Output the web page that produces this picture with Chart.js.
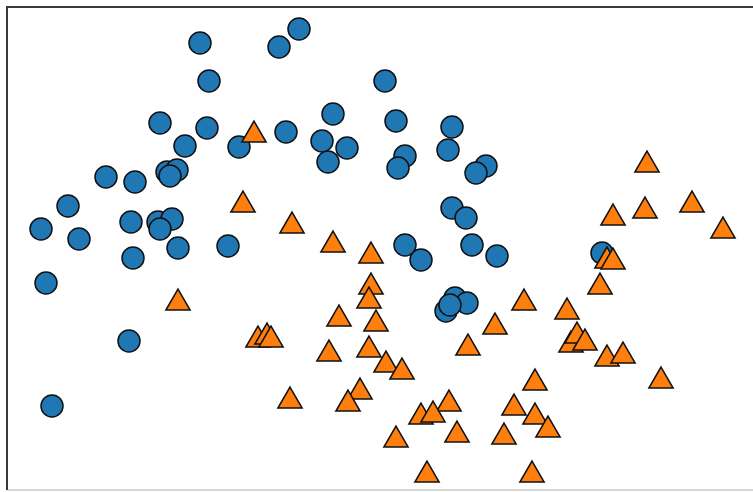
<!DOCTYPE html>
<html>
<head>
<meta charset="utf-8">
<title>Two moons scatter</title>
<script src="https://cdn.jsdelivr.net/npm/chart.js@4/dist/chart.umd.min.js"></script>
<style>
    html, body { margin: 0; padding: 0; background: #fff; }
    #wrap { width: 753px; height: 492px; }
</style>
</head>
<body>
<div id="wrap"><canvas id="moons" width="753" height="492"></canvas></div>
<script>
// Values (plot units: x to the right, y downwards)
const class0X = [200, 209, 160, 207, 185, 239, 106, 135, 167, 177, 170, 68, 41, 79, 131, 158, 172, 160, 178, 228,
    133, 46, 129, 52, 299, 279, 385, 333, 286, 396, 452, 322, 347, 328, 405, 398, 448, 486, 476, 452,
    466, 405, 421, 472, 497, 455, 467, 446, 450, 602];
const class0Y = [43, 81, 123, 128, 146, 147, 177, 182, 172, 170, 176, 206, 229, 239, 222, 222, 219, 229, 248, 246,
    258, 283, 341, 406, 29, 47, 81, 114, 132, 121, 127, 141, 148, 162, 156, 168, 150, 166, 173, 208,
    218, 245, 260, 245, 256, 298, 303, 311, 305, 253];

const class1X = [254, 243, 292, 333, 371, 371, 369, 339, 376, 258, 267, 271, 329, 369, 386, 402, 290, 360, 348, 449,
    421, 433, 396, 457, 427, 495, 468, 524, 567, 571, 577, 585, 607, 623, 661, 600, 607, 613, 535, 514,
    535, 548, 504, 532, 647, 613, 645, 692, 723, 178];
const class1Y = [135, 205, 226, 245, 256, 287, 301, 319, 324, 340, 337, 340, 354, 350, 365, 372, 401, 392, 404, 404,
    417, 415, 440, 435, 475, 327, 348, 303, 312, 345, 336, 343, 359, 356, 381, 287, 261, 262, 383, 408,
    417, 430, 437, 475, 165, 218, 211, 205, 231, 303];

const xRange = [0, 753];
const yRange = [0, 492];

function toPoints(xs, ys) {
    return xs.map((x, i) => ({ x: x, y: ys[i] }));
}

// matplotlib-like axes frame: dark left/top spines, faint bottom one (right is cut off)
const framePlugin = {
    id: "frame",
    afterDraw(chart) {
        const ctx = chart.ctx;
        const x = chart.scales.x;
        const y = chart.scales.y;
        const left = x.getPixelForValue(7);
        const top = y.getPixelForValue(7);
        const right = x.getPixelForValue(753);
        const bottom = y.getPixelForValue(490);
        ctx.save();
        ctx.strokeStyle = "#d8d8d8";
        ctx.lineWidth = 2;
        ctx.beginPath();
        ctx.moveTo(left, bottom);
        ctx.lineTo(right, bottom);
        ctx.stroke();
        ctx.strokeStyle = "#3a3a3a";
        ctx.beginPath();
        ctx.moveTo(left, bottom);
        ctx.lineTo(left, top);
        ctx.lineTo(right, top);
        ctx.stroke();
        ctx.restore();
    }
};

new Chart(document.getElementById("moons").getContext("2d"), {
    type: "scatter",
    data: {
        datasets: [
            {
                label: "Class 0",
                data: toPoints(class0X, class0Y),
                pointStyle: "circle",
                pointRadius: 11,
                backgroundColor: "#1f77b4",
                borderColor: "#111111",
                borderWidth: 1.5,
                order: 2
            },
            {
                label: "Class 1",
                data: toPoints(class1X, class1Y),
                pointStyle: "triangle",
                pointRadius: 14,
                backgroundColor: "#ff7f0e",
                borderColor: "#111111",
                borderWidth: 1.5,
                order: 1
            }
        ]
    },
    options: {
        responsive: false,
        animation: false,
        layout: { padding: 0, autoPadding: false },
        clip: false,
        plugins: {
            legend: { display: false },
            tooltip: { enabled: false }
        },
        scales: {
            x: { type: "linear", display: false, min: xRange[0], max: xRange[1] },
            y: { type: "linear", display: false, min: yRange[0], max: yRange[1], reverse: true }
        }
    },
    plugins: [framePlugin]
});
</script>
</body>
</html>
